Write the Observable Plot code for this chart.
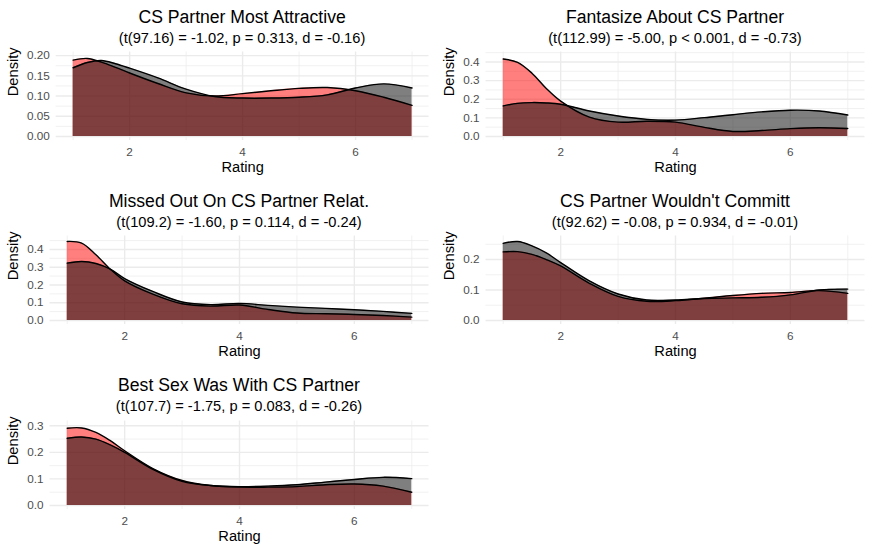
<!DOCTYPE html>
<html>
<head>
<meta charset="utf-8">
<script src="https://cdn.jsdelivr.net/npm/d3@7"></script>
<script src="https://cdn.jsdelivr.net/npm/@observablehq/plot@0.6"></script>
<style>
html, body { margin: 0; padding: 0; background: #fff; }
#chart { position: relative; width: 872px; height: 553px; overflow: hidden;
  font-family: "Liberation Sans", Arial, Helvetica, sans-serif; background: #fff; }
.title { position: absolute; text-align: center; font-size: 17.6px; line-height: 20px; color: #000; white-space: nowrap; }
.subtitle { position: absolute; text-align: center; font-size: 14.67px; line-height: 17px; color: #000; white-space: nowrap; }
.panel { position: absolute; }
.panel svg { display: block; overflow: visible; }
</style>
</head>
<body>
<div id="chart"></div>
<script>
// ---- data ----
const rating = [1, 1.25, 1.5, 1.75, 2, 2.5, 3, 3.5, 4, 4.5, 5, 5.5, 6, 6.5, 7];

const titles = [
  "CS Partner Most Attractive",
  "Fantasize About CS Partner",
  "Missed Out On CS Partner Relat.",
  "CS Partner Wouldn't Committ",
  "Best Sex Was With CS Partner"
];
const subtitles = [
  "(t(97.16) = -1.02, p = 0.313, d = -0.16)",
  "(t(112.99) = -5.00, p < 0.001, d = -0.73)",
  "(t(109.2) = -1.60, p = 0.114, d = -0.24)",
  "(t(92.62) = -0.08, p = 0.934, d = -0.01)",
  "(t(107.7) = -1.75, p = 0.083, d = -0.26)"
];

const attractiveRed   = [0.189, 0.193, 0.184, 0.171, 0.157, 0.131, 0.108, 0.100, 0.106, 0.113, 0.119, 0.121, 0.113, 0.097, 0.077];
const attractiveBlack = [0.170, 0.183, 0.188, 0.180, 0.169, 0.145, 0.117, 0.099, 0.095, 0.095, 0.097, 0.103, 0.120, 0.130, 0.120];

const fantasizeRed    = [0.416, 0.398, 0.340, 0.258, 0.190, 0.104, 0.077, 0.082, 0.077, 0.049, 0.027, 0.032, 0.042, 0.047, 0.043];
const fantasizeBlack  = [0.164, 0.178, 0.182, 0.180, 0.173, 0.137, 0.110, 0.092, 0.088, 0.101, 0.117, 0.132, 0.141, 0.137, 0.115];

const missedRed       = [0.445, 0.436, 0.370, 0.289, 0.223, 0.147, 0.094, 0.081, 0.087, 0.062, 0.042, 0.038, 0.034, 0.028, 0.019];
const missedBlack     = [0.323, 0.332, 0.321, 0.289, 0.236, 0.162, 0.104, 0.089, 0.096, 0.085, 0.075, 0.068, 0.060, 0.051, 0.040];

const commitRed       = [0.225, 0.226, 0.217, 0.200, 0.179, 0.122, 0.079, 0.063, 0.065, 0.073, 0.082, 0.089, 0.092, 0.098, 0.089];
const commitBlack     = [0.253, 0.259, 0.245, 0.222, 0.190, 0.130, 0.087, 0.067, 0.067, 0.072, 0.074, 0.076, 0.084, 0.100, 0.103];

const bestSexRed      = [0.291, 0.292, 0.275, 0.244, 0.206, 0.138, 0.094, 0.075, 0.069, 0.069, 0.071, 0.078, 0.081, 0.073, 0.050];
const bestSexBlack    = [0.253, 0.258, 0.250, 0.228, 0.200, 0.135, 0.091, 0.075, 0.071, 0.073, 0.078, 0.088, 0.098, 0.106, 0.101];

const densityMax = [0.199, 0.432, 0.453, 0.264, 0.303];
const yTickValues = [
  [0, 0.05, 0.10, 0.15, 0.20],
  [0, 0.1, 0.2, 0.3, 0.4],
  [0, 0.1, 0.2, 0.3, 0.4],
  [0, 0.1, 0.2],
  [0, 0.1, 0.2, 0.3]
];
const yTickFormats = [".2f", ".1f", ".1f", ".1f", ".1f"];
const xTickValues = [2, 4, 6];
const xRange = [1, 7];

// ---- assemble ----
const redSets = [attractiveRed, fantasizeRed, missedRed, commitRed, bestSexRed];
const blackSets = [attractiveBlack, fantasizeBlack, missedBlack, commitBlack, bestSexBlack];

const FONT = '"Liberation Sans", Arial, Helvetica, sans-serif';
const root = document.getElementById("chart");
const cellW = 436, cellH = 553 / 3;
const svgTop = 46, svgH = cellH - svgTop;
const mT = 5.5, panelH = 88.5, mB = svgH - mT - panelH, mR = 7.5;
const GRID = "#EBEBEB";

function minorOf(ticks, lo, hi) {
  const step = ticks[1] - ticks[0];
  const out = [];
  for (let v = ticks[0] - step / 2; v <= ticks[ticks.length - 1] + step / 2 + 1e-9; v += step) {
    if (v >= lo && v <= hi) out.push(+v.toFixed(6));
  }
  return out;
}

titles.forEach((title, i) => {
  const col = i % 2, row = Math.floor(i / 2);
  const left = col * cellW, top = row * cellH;
  const fmt = d3.format(yTickFormats[i]);
  const mL = yTickFormats[i] === ".2f" ? 55.7 : 49.5;
  const D = densityMax[i];
  const yDom = [-0.05 * D, 1.05 * D];
  const xSpan = xRange[1] - xRange[0];
  const xDom = [xRange[0] - 0.05 * xSpan, xRange[1] + 0.05 * xSpan];
  const yT = yTickValues[i];
  const yMinor = minorOf(yT, yDom[0], yDom[1]);
  const xMinor = minorOf(xTickValues, xDom[0], xDom[1]);

  const red = rating.map((x, j) => ({x, y: redSets[i][j]}));
  const black = rating.map((x, j) => ({x, y: blackSets[i][j]}));

  const t = document.createElement("div");
  t.className = "title";
  t.textContent = title;
  t.style.left = (left + mL) + "px";
  t.style.width = (cellW - mL - mR) + "px";
  t.style.top = (top + 6.6) + "px";
  root.appendChild(t);

  const s = document.createElement("div");
  s.className = "subtitle";
  s.textContent = subtitles[i];
  s.style.left = (left + mL) + "px";
  s.style.width = (cellW - mL - mR) + "px";
  s.style.top = (top + 29.8) + "px";
  root.appendChild(s);

  const chart = Plot.plot({
    width: cellW,
    height: svgH,
    marginLeft: mL, marginRight: mR, marginTop: mT, marginBottom: mB,
    style: {fontFamily: FONT, fontSize: "11.73px", background: "transparent", overflow: "visible"},
    x: {domain: xDom},
    y: {domain: yDom},
    marks: [
      Plot.ruleX(xMinor, {stroke: GRID, strokeWidth: 0.7}),
      Plot.ruleY(yMinor, {stroke: GRID, strokeWidth: 0.7}),
      Plot.ruleX(xTickValues, {stroke: GRID, strokeWidth: 1.4}),
      Plot.ruleY(yT, {stroke: GRID, strokeWidth: 1.4}),
      Plot.areaY(red, {x: "x", y: "y", fill: "red", fillOpacity: 0.5, curve: "catmull-rom"}),
      Plot.lineY(red, {x: "x", y: "y", stroke: "black", strokeWidth: 1.4, curve: "catmull-rom"}),
      Plot.areaY(black, {x: "x", y: "y", fill: "black", fillOpacity: 0.5, curve: "catmull-rom"}),
      Plot.lineY(black, {x: "x", y: "y", stroke: "black", strokeWidth: 1.4, curve: "catmull-rom"}),
      Plot.axisX({ticks: xTickValues, tickFormat: d3.format("d"), tickSize: 0, tickPadding: 7.3, fontSize: 11.73, color: "#4D4D4D", label: null}),
      Plot.axisY({ticks: yT, tickFormat: fmt, tickSize: 0, tickPadding: 6.4, fontSize: 11.73, color: "#4D4D4D", label: null}),
      Plot.text(["Rating"], {text: d => d, frameAnchor: "bottom", dy: 32, lineAnchor: "bottom", fontSize: 14.67, fill: "black"}),
      Plot.text(["Density"], {text: d => d, frameAnchor: "left", rotate: -90, dx: -(mL - 7.3), lineAnchor: "top", fontSize: 14.67, fill: "black"})
    ]
  });
  const wrap = document.createElement("div");
  wrap.className = "panel";
  wrap.style.left = left + "px";
  wrap.style.top = (top + svgTop) + "px";
  wrap.appendChild(chart);
  root.appendChild(wrap);
});
</script>
</body>
</html>
